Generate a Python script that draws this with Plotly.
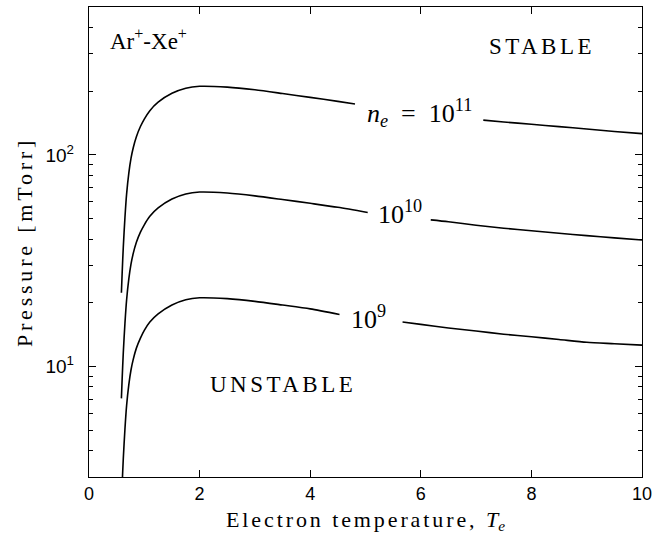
import math
import plotly.graph_objects as go

# --- data ---
# n_e = 1e11 curve (None marks the gap left for the label)
T_11 = [0.586, 0.60, 0.62, 0.65, 0.68, 0.72, 0.76, 0.80, 0.857, 0.93, 1.0, 1.1, 1.25, 1.5, 1.75, 2.0,
        2.5, 3.0, 3.5, 4.0, 4.5, 4.81, None, 7.13, 7.5, 8.0, 8.5, 9.0, 9.5, 10.0]
P_11 = [22.3, 27.8, 36.6, 50.6, 65.2, 82.0, 96.4, 108.1, 121.9, 136.1, 147.6, 161.8, 177.4, 195.4, 206.5, 210.9,
        209, 203, 195, 187, 179, 174, None, 146, 143, 139.5, 136, 132.5, 129, 126]

# n_e = 1e10 curve
T_10 = [0.586, 0.60, 0.62, 0.65, 0.68, 0.72, 0.76, 0.80, 0.857, 0.93, 1.0, 1.1, 1.25, 1.5, 1.75, 2.0,
        2.5, 3.0, 3.5, 4.0, 4.5, 5.04, None, 6.18, 6.5, 7.0, 7.5, 8.0, 8.5, 9.0, 9.5, 10.0]
P_10 = [7.06, 8.8, 11.6, 16.0, 20.6, 25.9, 30.5, 34.2, 38.6, 43.1, 46.7, 51.2, 56.1, 61.8, 65.3, 66.7,
        66, 64, 61.5, 59, 56.5, 53.4, None, 49.3, 48.3, 46.5, 45, 43.8, 42.6, 41.5, 40.5, 39.6]

# n_e = 1e9 curve
T_9 = [0.586, 0.60, 0.62, 0.65, 0.68, 0.72, 0.76, 0.80, 0.857, 0.93, 1.0, 1.1, 1.25, 1.5, 1.75, 2.0,
       2.5, 3.0, 3.5, 4.0, 4.53, None, 5.67, 6.0, 6.5, 7.0, 7.5, 8.0, 8.5, 9.0, 9.5, 10.0]
P_9 = [2.23, 2.78, 3.66, 5.06, 6.52, 8.2, 9.64, 10.8, 12.2, 13.6, 14.8, 16.2, 17.7, 19.5, 20.65, 21.1,
       20.9, 20.3, 19.5, 18.7, 17.6, None, 16.2, 15.8, 15.2, 14.7, 14.2, 13.8, 13.4, 13.0, 12.8, 12.6]

x_ticks = [0, 2, 4, 6, 8, 10]
y_ticks = [10, 100]
y_tick_labels = ["10<sup>1</sup>", "10<sup>2</sup>"]
y_minor = [3, 4, 5, 6, 7, 8, 9, 20, 30, 40, 50, 60, 70, 80, 90, 200, 300, 400, 500]

serif = "Liberation Serif"
sans = "Liberation Sans"

fig = go.Figure()
for T, P in [(T_11, P_11), (T_10, P_10), (T_9, P_9)]:
    fig.add_trace(go.Scatter(x=T, y=P, mode="lines",
                             line=dict(color="black", width=1.6, shape="spline", smoothing=0.7),
                             connectgaps=False, showlegend=False, hoverinfo="skip"))

ann = [
    dict(x=5.98, y=158, text="<i>n</i><sub><i>e</i></sub>  =  10<sup>11</sup>", size=26),
    dict(x=5.62, y=53.5, text="10<sup>10</sup>", size=26),
    dict(x=5.05, y=17.0, text="10<sup>9</sup>", size=26),
    dict(x=1.08, y=350, text="Ar<sup>+</sup>-Xe<sup>+</sup>", size=23),
    dict(x=8.2, y=325, text="<span style='letter-spacing:3.5px'>STABLE</span>", size=23),
    dict(x=3.5, y=8.2, text="<span style='letter-spacing:3.5px'>UNSTABLE</span>", size=23),
]
for a in ann:
    fig.add_annotation(x=a["x"], y=math.log10(a["y"]), xref="x", yref="y", text=a["text"], showarrow=False,
                       font=dict(family=serif, size=a["size"], color="black"))

fig.update_layout(
    width=670, height=538,
    margin=dict(l=89, r=28, t=7, b=61),
    paper_bgcolor="white", plot_bgcolor="white",
    xaxis=dict(range=[0, 10], tickvals=x_ticks, ticks="inside", ticklen=7, tickcolor="black",
               showline=True, linecolor="black", linewidth=1.4, mirror="allticks", showgrid=False, zeroline=False,
               tickfont=dict(family=sans, size=18, color="black"),
               title=dict(text="<span style='letter-spacing:2.9px'>Electron temperature, </span><i>T<sub>e</sub></i>",
                          font=dict(family=serif, size=22, color="black"), standoff=8)),
    yaxis=dict(type="log", range=[0.4771, 2.699], tickvals=y_ticks, ticktext=y_tick_labels, ticks="inside",
               ticklen=7, tickcolor="black", showline=True, linecolor="black", linewidth=1.4, mirror="allticks",
               showgrid=False, zeroline=False, tickfont=dict(family=sans, size=19, color="black"),
               ticklabelstandoff=10,
               minor=dict(tickvals=y_minor, ticks="inside", ticklen=4, tickcolor="black", showgrid=False),
               title=dict(text="<span style='letter-spacing:3.8px'>Pressure [mTorr]</span>",
                          font=dict(family=serif, size=22, color="black"), standoff=6)),
)

fig.write_html("out.html", config={"displayModeBar": False},
               post_script="document.body.style.margin='0';")
